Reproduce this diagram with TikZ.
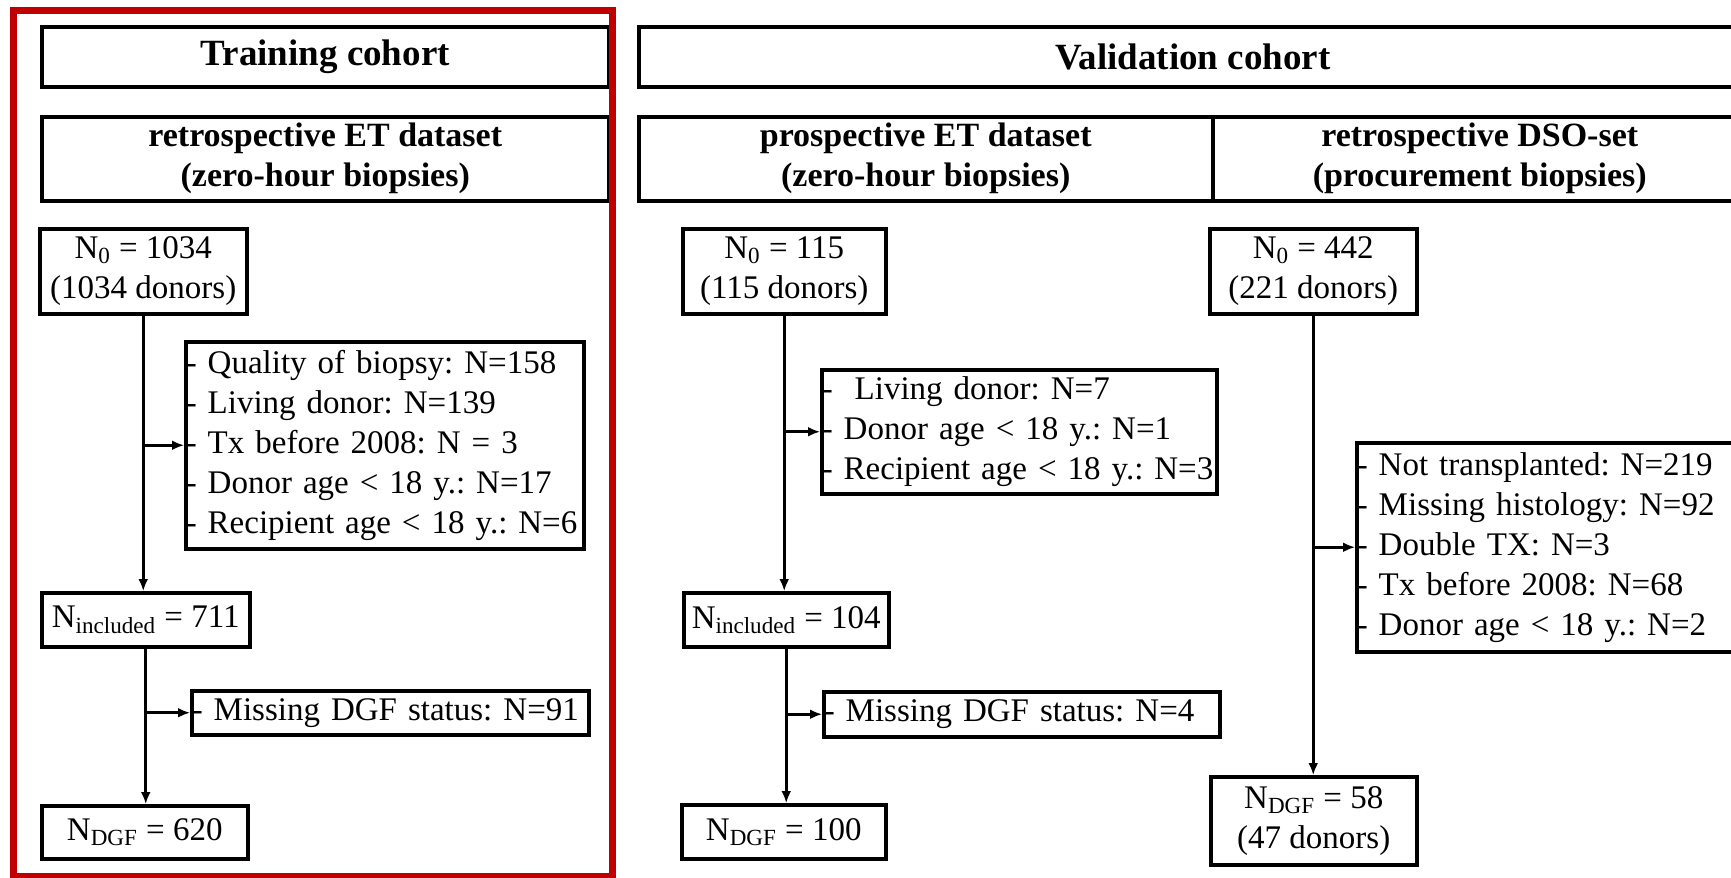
\documentclass[tikz,border=0pt]{standalone}
\usepackage{fontspec}
\setmainfont{Liberation Serif}
\usetikzlibrary{positioning,arrows.meta}
\definecolor{framered}{RGB}{192,0,0}

\begin{document}
\frenchspacing
\begin{tikzpicture}[x=0.5pt, y=-0.5pt, every node/.style={font=\fontsize{16.5}{20}\selectfont},
  box/.style={draw, rectangle, line width=1.75pt, inner sep=0pt, align=center, anchor=north west},
  head/.style={box, font=\bfseries\fontsize{18.5}{22}\selectfont},
  sethead/.style={box, font=\bfseries\fontsize{17}{20}\selectfont},
  excl/.style={box, align=left},
  flow/.style={line width=1.6pt, -{Latex[length=6pt, width=5pt]}}]
	\useasboundingbox (0,0) rectangle (1731,878);
	\clip (0,0) rectangle (1731,878);

	\node[head, minimum width=283.5pt, minimum height=30pt] (train) at (40,25) {Training cohort};
	\node[head, minimum width=554pt, minimum height=30pt] (valid) at (637,25) {Validation cohort};
	\node[sethead, minimum width=283.5pt, minimum height=42pt] (retroET) at (40,115) {retrospective ET dataset\\(zero-hour biopsies)};
	\node[sethead, minimum width=287pt, minimum height=42pt] (prosET) at (637,115) {prospective ET dataset\\(zero-hour biopsies)};
	\node[sethead, minimum width=267pt, minimum height=42pt] (retroDSO) at (1211,115) {retrospective DSO-set\\(procurement biopsies)};

	\node[box, minimum width=103.5pt, minimum height=42.5pt] (start1) at (38,227) {N\textsubscript{0} = 1034\\(1034 donors)};
	\node[excl, text width=199pt, minimum height=103.5pt] (excl1) at (184,340) {- Quality of biopsy: N=158\\- Living donor: N=139\\- Tx before 2008: N = 3\\- Donor age < 18 y.: N=17\\- Recipient age < 18 y.: N=6};
	\node[box, minimum width=104pt, minimum height=27pt] (incl1) at (40,591) {N\textsubscript{included} = 711};
	\node[excl, text width=198.5pt, minimum height=22pt] (excl2) at (190,689) {- Missing DGF status: N=91};
	\node[box, minimum width=103pt, minimum height=26.5pt] (dgf1) at (40,804) {N\textsubscript{DGF} = 620};

	\node[box, minimum width=101.5pt, minimum height=42.5pt] (start2) at (681,227) {N\textsubscript{0} = 115\\(115 donors)};
	\node[excl, text width=197.5pt, minimum height=62pt] (excl3) at (820,368) {-\ \ Living donor: N=7\\- Donor age < 18 y.: N=1\\- Recipient age < 18 y.: N=3};
	\node[box, minimum width=102.5pt, minimum height=27pt] (incl2) at (682,591) {N\textsubscript{included} = 104};
	\node[excl, text width=198pt, minimum height=22.5pt] (excl4) at (822,690) {- Missing DGF status: N=4};
	\node[box, minimum width=102pt, minimum height=27pt] (dgf2) at (680,803) {N\textsubscript{DGF} = 100};

	\node[box, minimum width=103.5pt, minimum height=42.5pt] (start3) at (1208,227) {N\textsubscript{0} = 442\\(221 donors)};
	\node[excl, text width=195pt, minimum height=104.5pt] (excl5) at (1355,441) {- Not transplanted: N=219\\- Missing histology: N=92\\- Double TX: N=3\\- Tx before 2008: N=68\\- Donor age < 18 y.: N=2};
	\node[box, minimum width=103pt, minimum height=44pt] (dgf3) at (1209,775) {N\textsubscript{DGF} = 58\\(47 donors)};

	\draw[flow] (start1.south) -- (start1.south |- incl1.north);
	\draw[flow] (start1.south |- excl1.west) -- (excl1.west);
	\draw[flow] (incl1.south) -- (incl1.south |- dgf1.north);
	\draw[flow] (incl1.south |- excl2.west) -- (excl2.west);
	\draw[flow] (start2.south) -- (start2.south |- incl2.north);
	\draw[flow] (start2.south |- excl3.west) -- (excl3.west);
	\draw[flow] (incl2.south) -- (incl2.south |- dgf2.north);
	\draw[flow] (incl2.south |- excl4.west) -- (excl4.west);
	\draw[flow] (start3.south) -- (start3.south |- dgf3.north);
	\draw[flow] (start3.south |- excl5.west) -- (excl5.west);

	\draw[framered, line width=3.5pt] (13.5,10) rectangle (612.5,876);
\end{tikzpicture}
\end{document}
